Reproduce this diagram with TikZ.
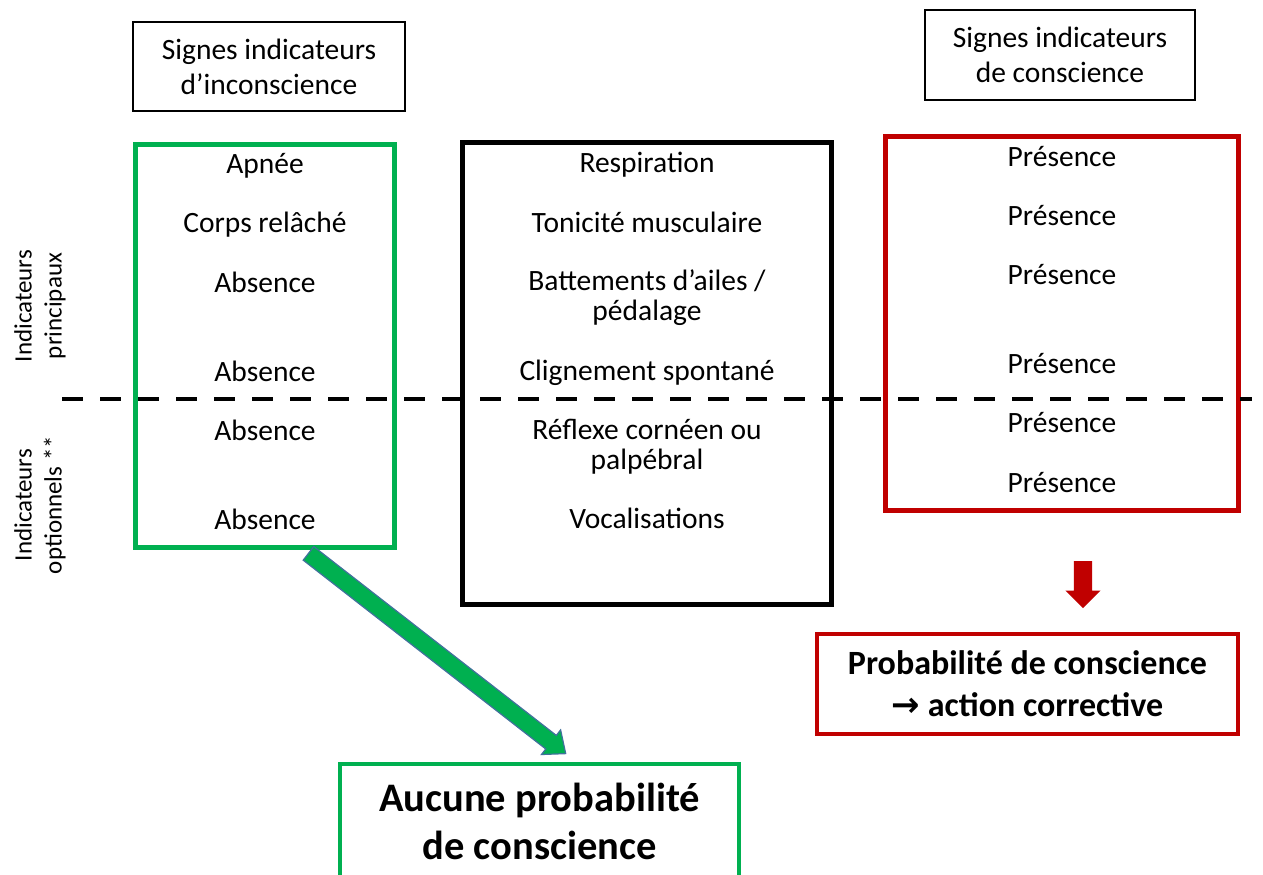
\documentclass[tikz,border=0pt]{standalone}
\usepackage{fontspec}
\setmainfont{Carlito}
\newfontfamily\arrowfont{DejaVu Sans}
\usetikzlibrary{positioning, shapes.arrows}
\definecolor{signgreen}{RGB}{0,176,80}
\definecolor{signred}{RGB}{192,0,0}
\definecolor{arrowedge}{RGB}{65,113,156}
\tikzset{
x=1pt, y=-1pt, % one unit is one pixel of the original drawing
titlebox/.style={draw, line width=1.3pt, align=center, inner sep=0pt,
  font=\fontsize{29.5}{35}\selectfont}, % the two headings on top
frame/.style={draw, line width=5pt, inner sep=0pt}, % the three columns
cell/.style={anchor=base, align=center, inner sep=0pt,
  font=\fontsize{29.5}{30}\selectfont}, % text in a column (base = last line)
sidelabel/.style={rotate=90, align=center, inner sep=0pt,
  font=\fontsize{25}{30}\selectfont}, % the labels on the left
resultbox/.style={draw, line width=4pt, align=center, inner sep=0pt,
  font=\bfseries}, % the two conclusions
fatarrow/.style={single arrow, inner sep=0pt, minimum width=0pt}, % block arrows
}

\begin{document}
\begin{tikzpicture}
\useasboundingbox (0,0) rectangle (1263,875);

% headings
\node[titlebox, minimum width=272, minimum height=89] (headinco) at (269,66.5)
  {Signes indicateurs\\d’inconscience};
\node[titlebox, minimum width=270, minimum height=90] (headco) at (1060,55)
  {Signes indicateurs\\de conscience};

% columns
\node[frame, draw=signgreen, minimum width=259, minimum height=403] (inco) at (265,346) {};
\node[frame, draw=black, minimum width=369, minimum height=462] (signs) at (647,373.5) {};
\node[frame, draw=signred, minimum width=353, minimum height=374] (co) at (1062,323.5) {};

% separation between main and optional indicators
\draw[line width=4.5pt, dash pattern=on 21pt off 17pt] (62,399) -- (1252,399);

\node[sidelabel] (main) at (40,306) {Indicateurs\\principaux};
\node[sidelabel] (optional) at (40,505) {Indicateurs\\optionnels **};

% unconsciousness
\node[cell] (inco1) at (265,173) {Apnée};
\node[cell] (inco2) at (265,232) {Corps relâché};
\node[cell] (inco3) at (265,292) {Absence};
\node[cell] (inco4) at (265,381) {Absence};
\node[cell] (inco5) at (265,440) {Absence};
\node[cell] (inco6) at (265,529) {Absence};

% indicators
\node[cell] (sign1) at (647,172) {Respiration};
\node[cell] (sign2) at (647,232) {Tonicité musculaire};
\node[cell] (sign3) at (647,320) {Battements d’ailes /\\pédalage};
\node[cell] (sign4) at (647,380) {Clignement spontané};
\node[cell] (sign5) at (647,469) {Réflexe cornéen ou\\palpébral};
\node[cell] (sign6) at (647,528) {Vocalisations};

% consciousness
\node[cell] (co1) at (1062,166) {Présence};
\node[cell] (co2) at (1062,225) {Présence};
\node[cell] (co3) at (1062,284) {Présence};
\node[cell] (co4) at (1062,373) {Présence};
\node[cell] (co5) at (1062,432) {Présence};
\node[cell] (co6) at (1062,492) {Présence};

% conclusions
\node[resultbox, draw=signgreen, minimum width=399, minimum height=114,
  font=\fontsize{40.5}{48}\selectfont\bfseries] (nochance) at (539.5,821)
  {Aucune probabilité\\de conscience};
\node[resultbox, draw=signred, minimum width=421, minimum height=100,
  font=\fontsize{34}{42}\selectfont\bfseries] (chance) at (1027.5,684)
  {Probabilité de conscience\\{\arrowfont\bfseries\fontsize{34}{42}\selectfont →} action corrective};

% arrows
\node[fatarrow, fill=signgreen, draw=arrowedge, line width=1.2pt,
  inner ysep=8pt, single arrow head extend=7pt, single arrow tip angle=80,
  minimum height=326, rotate=-37.9, anchor=tail] (toNone) at ([xshift=43,yshift=-3]inco.south) {};
\node[fatarrow, fill=signred, inner ysep=9pt, single arrow head extend=8.5pt,
  minimum height=47, rotate=-90, anchor=tail] (toChance) at (1083,561) {};
\end{tikzpicture}
\end{document}
